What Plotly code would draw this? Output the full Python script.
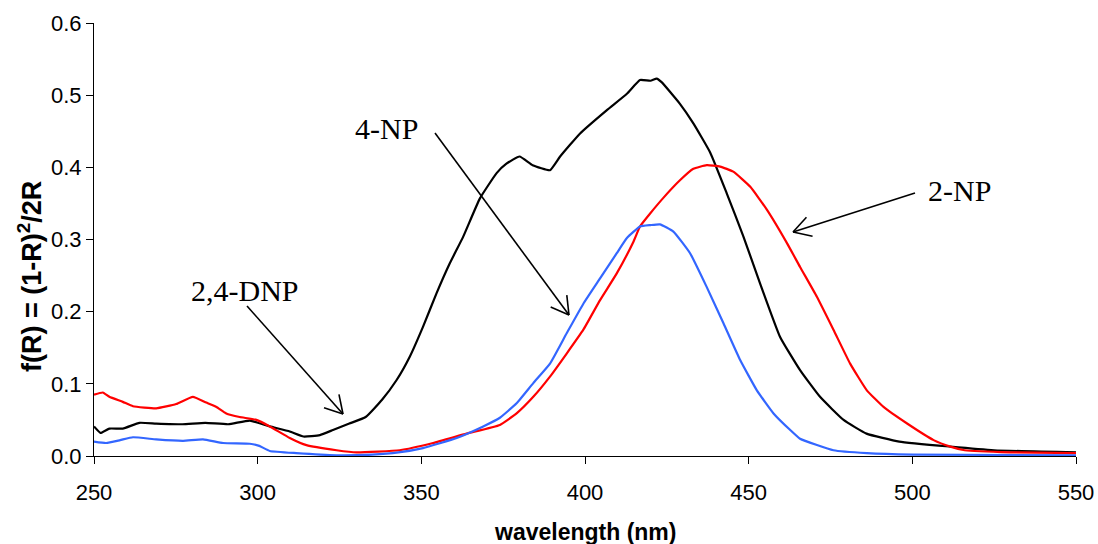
import math
import plotly.graph_objects as go

# ---- data ----
dnp24_x = [250, 252, 254.7, 258.8, 263.9, 269, 277, 284, 291, 297.6, 303.7, 309.8, 314, 319, 323,
           328, 333, 338, 342.4, 346.5, 350.5, 354.6, 358.7, 362.8, 367.9, 373, 376, 380, 384,
           389.3, 392.4, 398.5, 406.6, 412.8, 416.8, 420, 421.9, 423.4, 429, 433.1, 438.2, 443.3,
           448.4, 453.5, 459.6, 465.7, 471.8, 479, 486, 496, 511.6, 525, 550]
dnp24_y = [0.041, 0.032, 0.038, 0.038, 0.046, 0.045, 0.044, 0.046, 0.044, 0.049, 0.041, 0.034, 0.027,
           0.029, 0.036, 0.045, 0.054, 0.078, 0.105, 0.138, 0.179, 0.225, 0.267, 0.304, 0.357, 0.392,
           0.405, 0.415, 0.403, 0.396, 0.415, 0.447, 0.479, 0.502, 0.521, 0.520, 0.523, 0.518, 0.488,
           0.461, 0.421, 0.364, 0.304, 0.239, 0.165, 0.119, 0.082, 0.050, 0.031, 0.020, 0.013, 0.008,
           0.005]

np2_x = [250, 252.7, 254.7, 258.8, 261.9, 269, 275.1, 280.2, 284.3, 287.4, 290.4, 294.5, 299.6, 303.7,
         309.8, 314.9, 324.1, 330.2, 343.4, 353.6, 363.8, 374, 379.1, 384.2, 389.3, 394.4, 399.5,
         404.6, 409.7, 414.8, 416.8, 419.9, 424, 429, 433.1, 437.2, 441.3, 445.3, 450.5, 455.6, 461.7,
         465.7, 470.8, 475.9, 481, 486.1, 491.2, 498.4, 506.5, 511.6, 516, 530, 550]
np2_y = [0.085, 0.088, 0.082, 0.075, 0.069, 0.066, 0.072, 0.082, 0.074, 0.068, 0.059, 0.054, 0.050,
         0.041, 0.025, 0.015, 0.008, 0.005, 0.008, 0.018, 0.031, 0.043, 0.059, 0.082, 0.110, 0.142,
         0.175, 0.216, 0.253, 0.297, 0.318, 0.336, 0.358, 0.382, 0.398, 0.403, 0.401, 0.394, 0.373,
         0.341, 0.295, 0.262, 0.221, 0.175, 0.128, 0.091, 0.068, 0.045, 0.022, 0.013, 0.008, 0.005,
         0.004]

np4_x = [250, 253.7, 258, 261.9, 269, 277.2, 283.3, 289.4, 297.6, 300.5, 303.7, 311.8, 324.1, 335, 343,
         350.5, 360.8, 368.9, 374, 379.1, 384.2, 389.3, 394.4, 399.5, 404.6, 409.7, 412.8, 416.8, 420,
         422.9, 427, 432.1, 437.2, 442.3, 447.4, 452.5, 457.6, 462.7, 465.7, 475.9, 486.1, 500, 550]
np4_y = [0.020, 0.018, 0.022, 0.026, 0.023, 0.021, 0.023, 0.018, 0.017, 0.014, 0.007, 0.004, 0.001,
         0.002, 0.005, 0.011, 0.025, 0.041, 0.053, 0.073, 0.101, 0.128, 0.170, 0.211, 0.246, 0.281,
         0.302, 0.318, 0.320, 0.321, 0.311, 0.281, 0.234, 0.184, 0.133, 0.091, 0.059, 0.036, 0.024,
         0.008, 0.004, 0.002, 0.001]

x_ticks = [250, 300, 350, 400, 450, 500, 550]
y_ticks = [0.0, 0.1, 0.2, 0.3, 0.4, 0.5, 0.6]
labels = ["2,4-DNP", "4-NP", "2-NP"]
x_title = "<b>wavelength (nm)</b>"
y_title = "<b>f(R) = (1-R)<sup>2</sup>/2R</b>"

# ---- layout geometry in page pixels (body margin removed below) ----
W, H = 1098, 544
L, R, T, B = 94, 1076, 23, 456          # plot area


def paper(px, py):
    """page pixel -> paper coordinates"""
    return (px - L) / (R - L), (B - py) / (B - T)


fig = go.Figure()
fig.add_trace(go.Scatter(x=dnp24_x, y=dnp24_y, mode="lines",
                         line=dict(color="#000000", width=2.2, shape="spline", smoothing=0.4),
                         name=labels[0]))
fig.add_trace(go.Scatter(x=np2_x, y=np2_y, mode="lines",
                         line=dict(color="#FF0000", width=2.2, shape="spline", smoothing=0.4),
                         name=labels[2]))
fig.add_trace(go.Scatter(x=np4_x, y=np4_y, mode="lines",
                         line=dict(color="#3366FF", width=2.2, shape="spline", smoothing=0.4),
                         name=labels[1]))

# arrows: (text, text centre, tail, tip) in page pixels
arrows = [
    (labels[1], (386, 128), (435, 133), (569, 315)),
    (labels[2], (959, 190), (915, 193), (793, 232)),
    (labels[0], (245, 290), (247, 306), (343, 414)),
]
shapes = []
annotations = []
for text, (cx, cy), (tx, ty), (hx, hy) in arrows:
    x0, y0 = paper(tx, ty)
    x1, y1 = paper(hx, hy)
    shapes.append(dict(type="line", xref="paper", yref="paper", x0=x0, y0=y0, x1=x1, y1=y1,
                       line=dict(color="black", width=1.6)))
    ang = math.atan2(ty - hy, tx - hx)
    for d in (math.radians(30), -math.radians(30)):
        bx = hx + 20 * math.cos(ang + d)
        by = hy + 20 * math.sin(ang + d)
        bx0, by0 = paper(bx, by)
        shapes.append(dict(type="line", xref="paper", yref="paper", x0=x1, y0=y1, x1=bx0, y1=by0,
                           line=dict(color="black", width=1.6)))
    ax, ay = paper(cx, cy)
    annotations.append(dict(text=text, xref="paper", yref="paper", x=ax, y=ay, showarrow=False,
                            xanchor="center", yanchor="middle",
                            font=dict(family="Liberation Serif", size=30, color="black")))

# axis titles as annotations
tx_, ty_ = paper(585, 532)
annotations.append(dict(text=x_title, xref="paper", yref="paper", x=tx_, y=ty_, showarrow=False,
                        xanchor="center", yanchor="middle",
                        font=dict(family="Liberation Sans", size=23, color="black")))
tx_, ty_ = paper(30, 277)
annotations.append(dict(text=y_title, xref="paper", yref="paper", x=tx_, y=ty_, showarrow=False,
                        xanchor="center", yanchor="middle", textangle=-90,
                        font=dict(family="Liberation Sans", size=27, color="black")))

fig.update_layout(
    width=W, height=H,
    margin=dict(l=L, r=W - R, t=T, b=H - B, pad=0, autoexpand=False),
    paper_bgcolor="white", plot_bgcolor="white",
    showlegend=False,
    shapes=shapes, annotations=annotations,
    font=dict(family="Liberation Sans", color="black"),
)
fig.update_xaxes(range=[250, 550], tickvals=x_ticks, ticktext=[str(v) for v in x_ticks],
                 automargin=False, ticklabeloverflow="allow",
                 showline=True, linecolor="black", linewidth=1, showgrid=False, zeroline=False,
                 ticks="outside", ticklen=7, tickcolor="black", tickfont=dict(size=22),
                 ticklabelstandoff=10)
fig.update_yaxes(range=[0, 0.6], tickvals=y_ticks, ticktext=[f"{v:.1f}" for v in y_ticks],
                 automargin=False, ticklabeloverflow="allow",
                 showline=True, linecolor="black", linewidth=1, showgrid=False, zeroline=False,
                 ticks="outside", ticklen=7, tickcolor="black", tickfont=dict(size=22))

fig.write_html("out.html", config={"displayModeBar": False},
               post_script="document.body.style.margin='0';document.body.style.overflow='hidden';")
